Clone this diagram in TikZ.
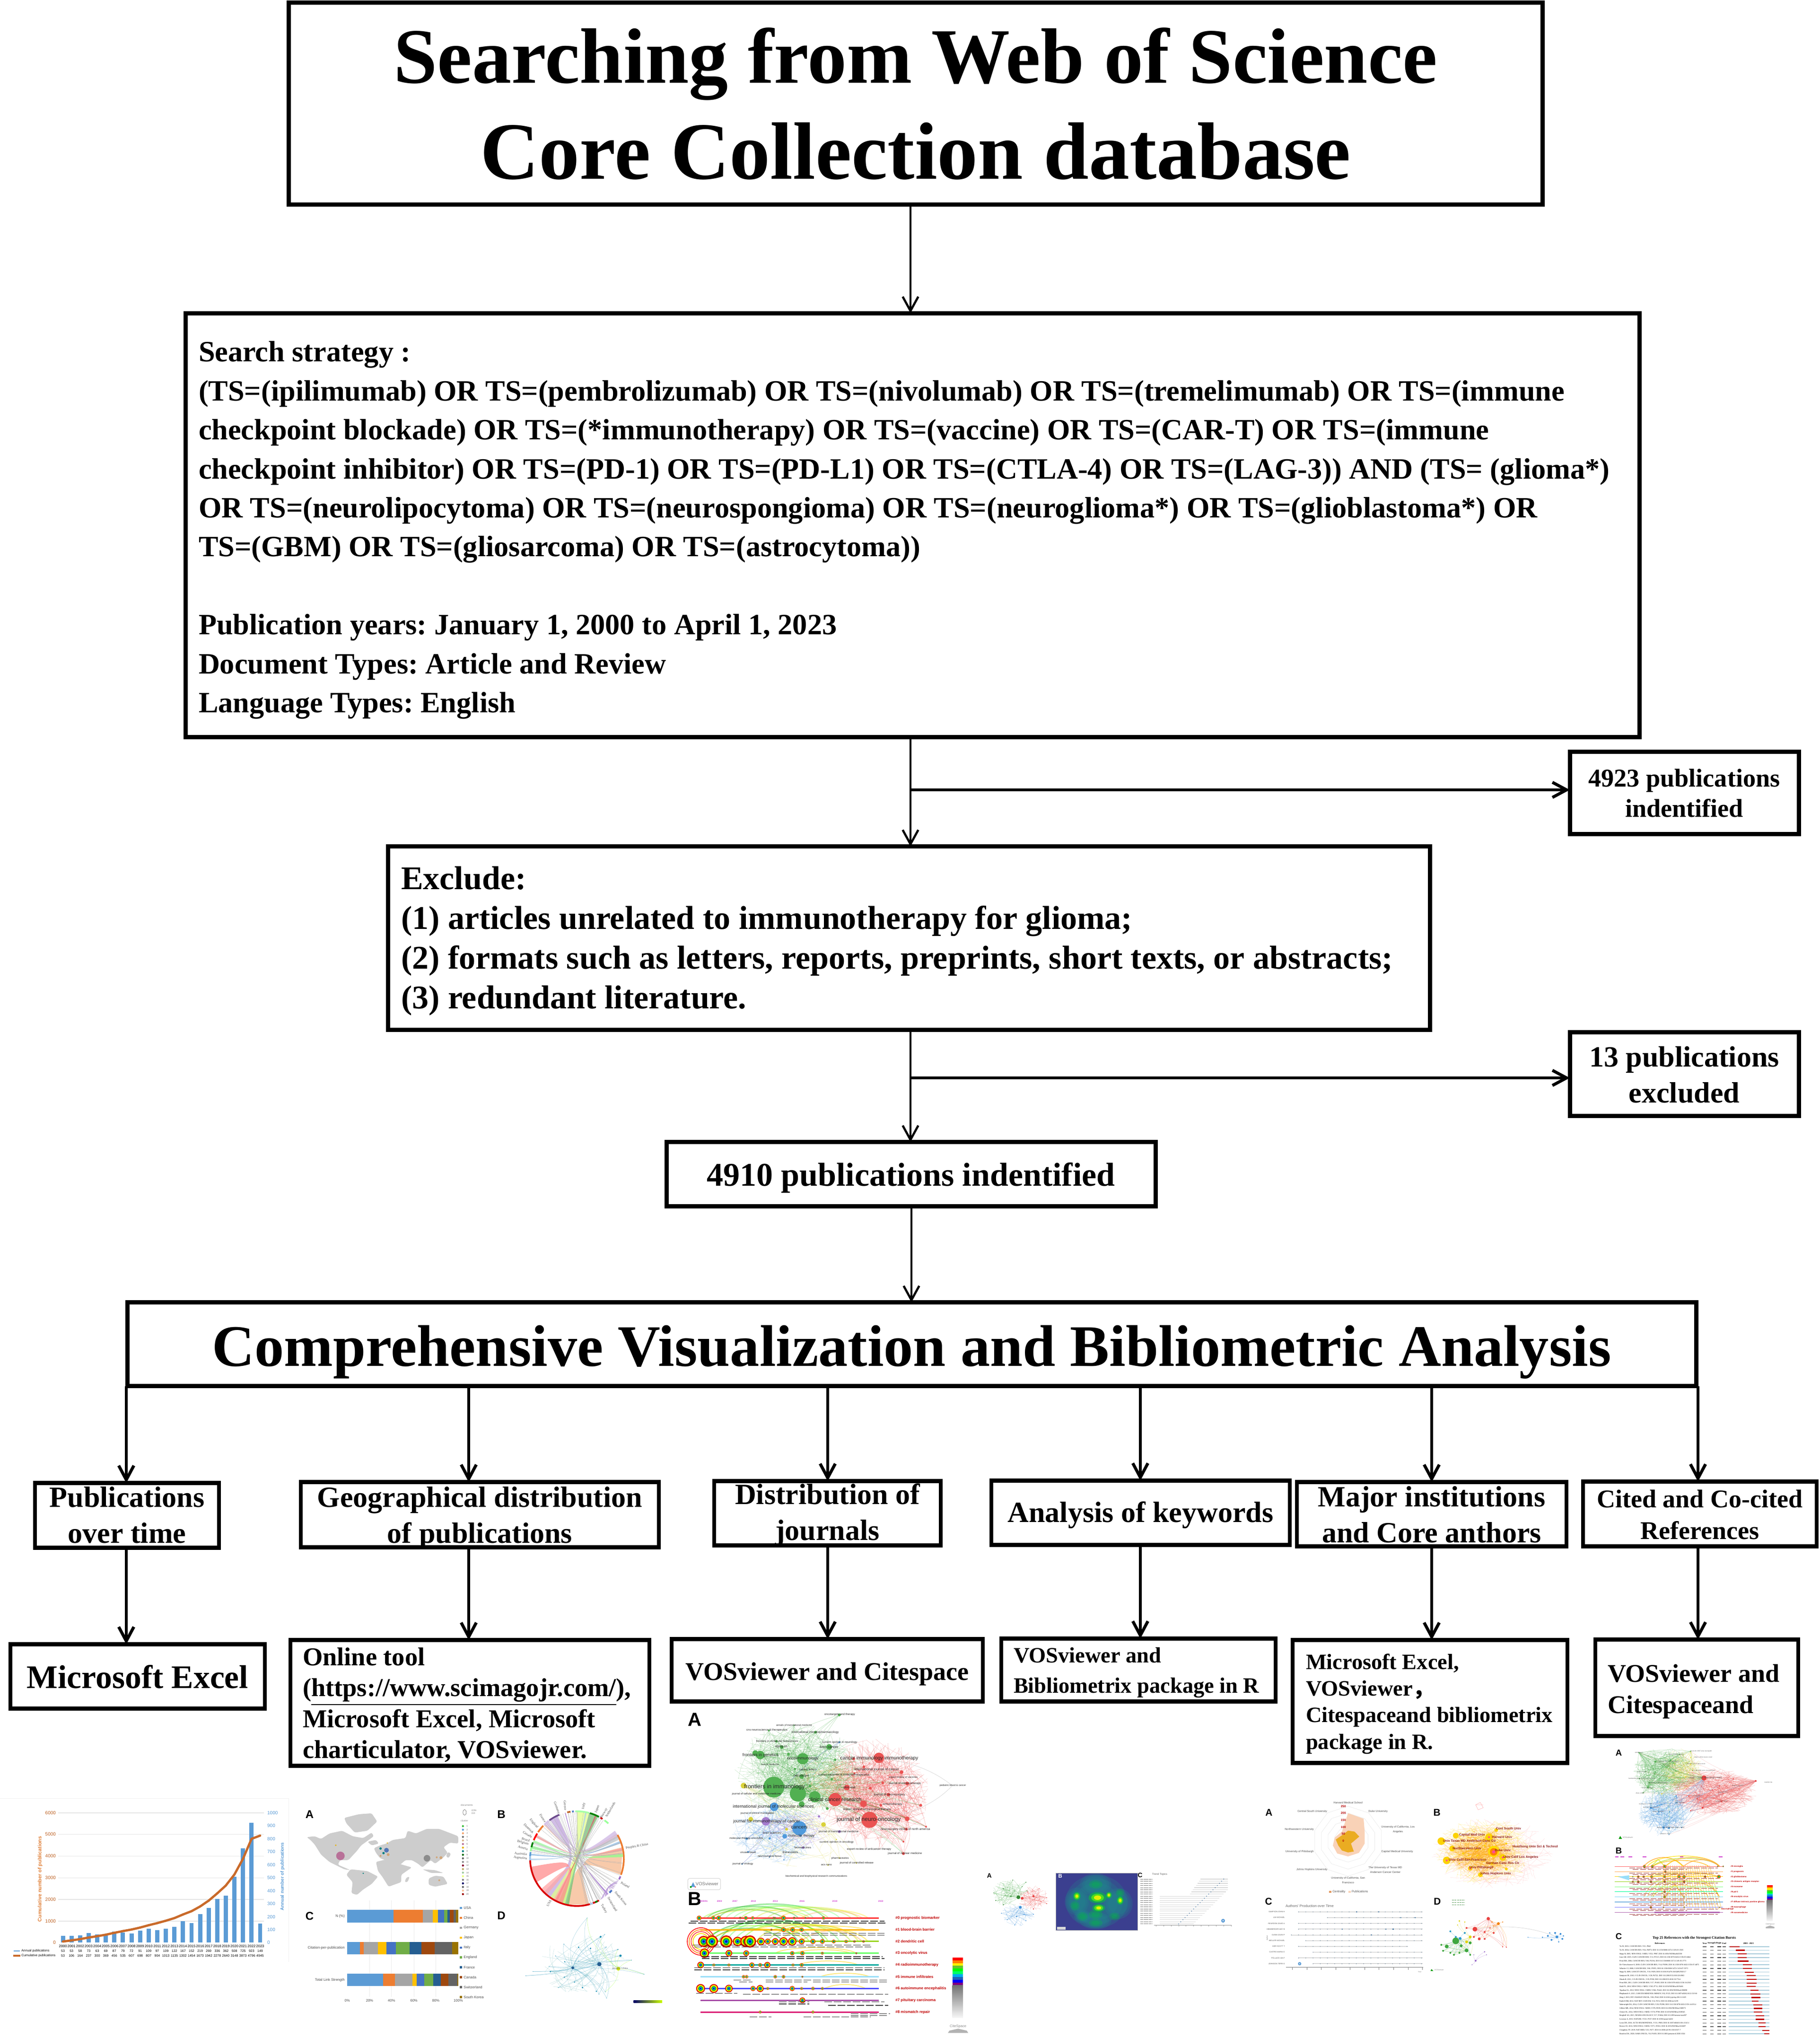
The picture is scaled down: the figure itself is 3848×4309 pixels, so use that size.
\documentclass[tikz,border=0pt]{standalone}
\usepackage{fontspec}
\setmainfont{Liberation Serif}
\newfontfamily\labf{Liberation Sans}
\newfontfamily\cjk{Noto Sans CJK SC}
\usetikzlibrary{arrows.meta,calc}
\definecolor{xblue}{HTML}{5B9BD5}\definecolor{xorange}{HTML}{ED7D31}\definecolor{xgray}{HTML}{A5A5A5}
\definecolor{xgold}{HTML}{FFC000}\definecolor{xroyal}{HTML}{4472C4}\definecolor{xgreen}{HTML}{70AD47}
\definecolor{xnavy}{HTML}{255E91}\definecolor{xbrown}{HTML}{9E480E}\definecolor{xdark}{HTML}{636363}\definecolor{xolive}{HTML}{997300}
\definecolor{vred}{HTML}{E8403F}\definecolor{vgreen}{HTML}{3FA73F}\definecolor{vblue}{HTML}{3C8FD8}\definecolor{vyel}{HTML}{D9D23A}\definecolor{vpur}{HTML}{9A6CC8}
\definecolor{mapg}{HTML}{CDCDCD}\definecolor{darkred}{HTML}{8E1A1A}\definecolor{mag}{HTML}{D040D0}\definecolor{heatbg}{HTML}{3B3F8F}\definecolor{heatt}{HTML}{1F8A8C}
\newcounter{zc}
\newcommand{\ctext}[5][0pt]{{\setbox0=\hbox{\parbox[c]{\dimexpr #2pt/4\relax}{\frenchspacing\fontsize{#3}{#4}\selectfont\centering #5\par}}\ht0=0pt \dp0=0pt \lower\dimexpr2.5pt+#1\relax\box0}}
\newcommand{\ltext}[5][0pt]{{\setbox0=\hbox{\parbox[c]{\dimexpr #2pt/4\relax}{\frenchspacing\fontsize{#3}{#4}\selectfont\raggedright #5\par}}\ht0=0pt \dp0=0pt \lower\dimexpr2.5pt+#1\relax\box0}}
\newcommand{\zt}[5][]{\stepcounter{zc}\node[inner sep=0,name=t\arabic{zc},font={\labf\fontsize{#4}{#4}\selectfont},#1] at (#2,#3) {#5};}
\newcommand{\zdots}[2]{\edef\zlist{#2}\foreach \x/\y/\rr in \zlist {\fill[#1] (\x,\y) circle[x radius=\rr/\sx,y radius=\rr/\sy];}}
\newcommand{\net}[3]{\edef\zhub{#2}\edef\zlist{#3}\foreach \a/\b/\c in \zhub {\foreach \x/\y/\rr in \zlist {\draw[#1,line width=.18pt,opacity=.3] (\a,\b) to[bend left=14] (\x,\y);}}}
\newcommand{\haze}[6]{\foreach \n in {1,...,#6}{\pgfmathsetmacro\hA{360*rnd}\pgfmathsetmacro\hR{sqrt(rnd)}\pgfmathsetmacro\hB{360*rnd}\pgfmathsetmacro\hS{sqrt(rnd)}\draw[#1,line width=.16pt,opacity=.26] ({#2+#4*\hR*cos(\hA)},{#3+#5*\hR*sin(\hA)}) to[bend left=12] ({#2+#4*\hS*cos(\hB)},{#3+#5*\hS*sin(\hB)});}}
\newcommand{\rings}[2]{\foreach \x/\rr in {#2}{\fill[red!85!black] (\x,#1) circle[x radius=\rr/\sx,y radius=\rr/\sy];\fill[yellow!90!orange] (\x,#1) circle[x radius=.78*\rr/\sx,y radius=.78*\rr/\sy];\fill[green!75!black] (\x,#1) circle[x radius=.55*\rr/\sx,y radius=.55*\rr/\sy];\fill[cyan!80!blue] (\x,#1) circle[x radius=.38*\rr/\sx,y radius=.38*\rr/\sy];\fill[blue!80!black] (\x,#1) circle[x radius=.2*\rr/\sx,y radius=.2*\rr/\sy];}}
\newcommand{\Pt}[1]{({1366+111*cos(#1)},{592+258*sin(#1)})}
\newcommand{\rim}[3]{\draw[#1,line width=.9pt] \Pt{#2} arc[start angle=#2,end angle=#3,x radius=111,y radius=258];}
\newcommand{\ribbon}[6][.75]{\fill[#2,opacity=#1] \Pt{#3} -- \Pt{#4} .. controls (1366,592) .. \Pt{#5} -- \Pt{#6} .. controls (1366,592) .. cycle;}
\tikzset{
 x=.25pt,y=-.25pt,
 bx/.style={draw=black,line width=2.25pt,rectangle,inner sep=0,outer sep=0,font=\bfseries},
 bxs/.style={bx,line width=2.05pt},
 wh/.style 2 args={minimum width=#1*.25pt+1pt,minimum height=#2*.25pt+.75pt},
 arrT/.style={-{Straight Barb[length=7.5pt,width=8.25pt]},line width=1.15pt},
 arrS/.style={-{Straight Barb[length=7.5pt,width=8pt]},line width=1.6pt},
}
\begin{document}
\begin{tikzpicture}
\pgfmathsetseed{12}
\useasboundingbox (0,0) rectangle (3848,4309);
% ---------- boxes
\node[bx,wh={2647}{424}] (title) at (1936,219) {\ctext[2.8pt]{2640}{41.5}{50.8}{Searching from Web of Science\\\fontsize{43}{50.8}\selectfont Core Collection database}};
\node[bx,wh={3070}{893}] (search) at (1929,1110) {\ltext[8pt]{3018}{15.57}{20.6}{Search strategy :\\(TS=(ipilimumab) OR TS=(pembrolizumab) OR TS=(nivolumab) OR TS=(tremelimumab) OR TS=(immune\\checkpoint blockade) OR TS=(*immunotherapy) OR TS=(vaccine) OR TS=(CAR-T) OR TS=(immune\\checkpoint inhibitor) OR TS=(PD-1) OR TS=(PD-L1) OR TS=(CTLA-4) OR TS=(LAG-3)) AND (TS= (glioma*)\\OR TS=(neurolipocytoma) OR TS=(neurospongioma) OR TS=(neuroglioma*) OR TS=(glioblastoma*) OR\\TS=(GBM) OR TS=(gliosarcoma) OR TS=(astrocytoma))\\[20.6pt]Publication years: January 1, 2000 to April 1, 2023\\Document Types: Article and Review\\Language Types: English}};
\node[bx,wh={480}{171}] (pubid) at (3561,1676.5) {\ctext[2.8pt]{470}{13.55}{16}{4923 publications\\indentified}};
\node[bx,wh={2199}{385}] (exclude) at (1921.5,1983.5) {\ltext[5.5pt]{2147}{17.5}{21}{Exclude:\\(1) articles unrelated to immunotherapy for glioma;\\(2) formats such as letters, reports, preprints, short texts, or abstracts;\\(3) redundant literature.}};
\node[bx,wh={480}{174}] (pubex) at (3561,2271) {\ctext[3.3pt]{470}{15.5}{19}{13 publications\\excluded}};
\node[bx,wh={1030}{133}] (n4910) at (1926,2482.5) {\ctext[6.35pt]{1020}{17.5}{21}{4910 publications indentified}};
\node[bx,wh={3313}{174}] (comp) at (1927.5,2842) {\ctext[10.9pt]{3300}{31.1}{36}{Comprehensive Visualization and Bibliometric Analysis}};
\node[bxs,wh={385}{134}] (pub) at (268.5,3204) {\ctext[2.1pt]{380}{15.5}{19}{Publications\\over time}};
\node[bxs,wh={753}{135}] (geo) at (1014.5,3202.5) {\ctext[6.15pt]{745}{15.5}{19}{Geographical distribution\\of publications}};
\node[bxs,wh={475}{133}] (dist) at (1749.5,3199.5) {\ctext[4.4pt]{470}{15.5}{19}{Distribution of\\journals}};
\node[bxs,wh={627}{133}] (kw) at (2411.5,3198.5) {\ctext[5pt]{620}{15.5}{19}{Analysis of keywords}};
\node[bxs,wh={566}{133}] (major) at (3027,3201.5) {\ctext[2.8pt]{560}{15.5}{19}{Major institutions\\and Core anthors}};
\node[bxs,wh={490}{134}] (cited) at (3594,3201) {\ctext[3.1pt]{484}{13.5}{16.7}{Cited and Co-cited\\References}};
\node[bxs,wh={534}{133}] (excel) at (291,3544.5) {\ctext[2.8pt]{528}{17.4}{21}{Microsoft Excel}};
\node[bxs,wh={755}{263}] (online) at (993.5,3600.5) {\ltext[4.6pt]{707}{13.6}{16.4}{Online tool\\(\underline{https://www.scimagojr.com/}),\\Microsoft Excel, Microsoft\\charticulator, VOSviewer.}};
\node[bxs,wh={654}{129}] (vosa) at (1749,3531.5) {\ctext[6.35pt]{648}{13.5}{16}{VOSviewer and Citespace}};
\node[bxs,wh={576}{130}] (vosb) at (2407,3531) {\ltext[5.1pt]{528}{11.6}{16}{VOSviewer and\\Bibliometrix package in R}};
\node[bxs,wh={577}{257}] (ms) at (3023.5,3597.5) {\ltext[5pt]{525}{11.6}{14.1}{Microsoft Excel,\\VOSviewer{\cjk，}\\Citespaceand bibliometrix\\package in R.}};
\node[bxs,wh={425}{201}] (vosc) at (3587.5,3568.5) {\ltext[6.35pt]{377}{13.5}{16.4}{VOSviewer and\\Citespaceand}};
% ---------- connector guides
\coordinate (cM) at (1925,0);\coordinate (cL) at (1927,0);
\coordinate (j1) at (1925,1670);\coordinate (j2) at (1925,2279);
\coordinate (c1) at (267,0);\coordinate (c2) at (991,0);\coordinate (c3) at (1750,0);\coordinate (c4) at (2411,0);\coordinate (c5) at (3027,0);\coordinate (c6) at (3590,0);
\draw[arrT] (title.south -| cM) -- (search.north -| cM);
\draw[arrT] (search.south -| cM) -- (exclude.north -| cM);
\draw[arrS] (j1) -- (pubid.west |- j1);
\draw[arrT] (exclude.south -| cM) -- (n4910.north -| cM);
\draw[arrS] (j2) -- (pubex.west |- j2);
\draw[arrT] (n4910.south -| cL) -- (comp.north -| cL);
\draw[arrS] (comp.south -| c1) -- (pub.north -| c1);
\draw[arrS] (comp.south -| c2) -- (geo.north -| c2);
\draw[arrS] (comp.south -| c3) -- (dist.north -| c3);
\draw[arrS] (comp.south -| c4) -- (kw.north -| c4);
\draw[arrS] (comp.south -| c5) -- (major.north -| c5);
\draw[arrS] (comp.south -| c6) -- (cited.north -| c6);
\draw[arrS] (pub.south -| c1) -- (excel.north -| c1);
\draw[arrS] (geo.south -| c2) -- (online.north -| c2);
\draw[arrS] (dist.south -| c3) -- (vosa.north -| c3);
\draw[arrS] (kw.south -| c4) -- (vosb.north -| c4);
\draw[arrS] (major.south -| c5) -- (ms.north -| c5);
\draw[arrS] (cited.south -| c6) -- (vosc.north -| c6);
% ================= PANELS, left group (zoom 1 coordinates)
\def\sx{.893}\def\sy{.388}
\begin{scope}[shift={(0,3700)},xscale=.893,yscale=.388]
\draw[black!6,line width=.3pt] (0,265) -- (684,265) -- (684,1155);
\foreach \g/\l in {342/6000,460/5000,578/4000,697/3000,815/2000,933/1000}{\draw[black!10,line width=.4pt] (138,\g) -- (625,\g);\zt[text=xorange!80!black,anchor=east]{133}{\g}{2.5}{\l}}
\zt[text=xorange!80!black,anchor=east]{133}{1050}{2.5}{0}
\foreach \g/\l in {342/1000,413/900,484/800,555/700,626/600,697/500,767/400,838/300,909/200,980/100,1050/0}{\zt[text=xblue,anchor=west]{632}{\g}{2.5}{\l}}
\zt[text=xorange!70!brown,rotate=90,font={\labf\bfseries\fontsize{2.7}{3}\selectfont}]{95}{703}{2.7}{Cumulative number of publications}
\zt[text=xblue,rotate=90,font={\labf\bfseries\fontsize{2.45}{3}\selectfont}]{669}{690}{2.45}{Annual number of publications}
\foreach \v [count=\i from 0] in {53,53,58,73,63,69,87,79,72,91,109,97,109,122,167,152,219,269,336,362,508,725,923,149}{
 \fill[xblue] ({149+20.3*\i-5},1050) rectangle ({149+20.3*\i+5},{1050-.708*\v});
 \zt{{149+20.3*\i}}{1095}{1.75}{\v}
 \pgfmathtruncatemacro\yr{2000+\i}\zt{{149+20.3*\i}}{1068}{1.9}{\yr}}
\foreach \c [count=\i from 0, remember=\c as \p (initially 53)] in {53,106,164,237,300,369,456,535,607,698,807,904,1013,1135,1302,1454,1673,1942,2278,2640,3148,3873,4796,4945}{
 \ifnum\i>0 \draw[xorange!85!black,line width=1.2pt,line cap=round] ({149+20.3*(\i-1)},{1050-.118*\p}) -- ({149+20.3*\i},{1050-.118*\c});\fi
 \zt{{149+20.3*\i}}{1121}{1.75}{\c}}
\fill[xblue] (33,1092) rectangle (47,1099);\draw[xorange!85!black,line width=.8pt] (31,1121) -- (48,1121);
\zt[anchor=west]{50}{1095}{1.7}{Annual publications}\zt[anchor=west]{50}{1121}{1.7}{Cumulative publications}
% map
\zt[font={\labf\bfseries\fontsize{6}{6}\selectfont}]{733}{350}{6}{A}
\begin{scope}[rounded corners=.8pt]
\fill[mapg] (726,475) -- (745,470) -- (760,485) -- (780,455) -- (810,440) -- (835,470) -- (860,480) -- (880,450) -- (885,470) -- (855,520) -- (845,550) -- (825,600) -- (805,600) -- (800,625) -- (830,655) -- (815,650) -- (780,610) -- (760,570) -- (745,515) -- (735,490) -- cycle;
\fill[mapg] (815,370) -- (850,350) -- (880,345) -- (893,390) -- (870,440) -- (840,450) -- (820,400) -- cycle;
\fill[mapg] (830,650) -- (870,660) -- (895,690) -- (880,730) -- (860,760) -- (845,790) -- (832,780) -- (835,720) -- (820,680) -- cycle;
\fill[mapg] (890,560) -- (885,535) -- (900,520) -- (915,510) -- (930,490) -- (960,480) -- (965,440) -- (985,455) -- (1010,430) -- (1040,430) -- (1085,470) -- (1085,510) -- (1065,505) -- (1050,530) -- (1060,560) -- (1050,585) -- (1030,620) -- (1020,600) -- (1000,640) -- (990,620) -- (975,600) -- (960,600) -- (940,640) -- (925,610) -- (900,590) -- cycle;
\fill[mapg] (890,610) -- (925,590) -- (945,620) -- (975,640) -- (950,680) -- (950,720) -- (920,745) -- (905,690) -- (895,660) -- cycle;
\fill[mapg] (1015,700) -- (1030,685) -- (1050,690) -- (1060,730) -- (1030,745) -- (1015,735) -- cycle;
\fill[mapg] (1000,650) -- (1030,655) -- (1050,670) -- (1020,670) -- cycle;
\fill[mapg] (962,695) -- (970,690) -- (965,720) -- (958,720) -- cycle;
\fill[mapg] (1060,555) -- (1068,565) -- (1062,590) -- (1056,580) -- cycle;
\fill[mapg] (870,500) -- (890,490) -- (897,510) -- (880,520) -- cycle;
\end{scope}
\zdots{magenta!40!gray}{806/577/9}
\zdots{black!45}{1011/590/7}
\zdots{xroyal!80!gray}{915/546/5}
\zdots{teal}{901/537/2.5,908/562/2.5,860/672/1.5}
\zdots{brown!70}{919/570/3,901/577/2,1034/585/2,1044/587/3.2,1040/710/2}
\zdots{xgold!80!gray}{795/519/1.8,917/507/1.5}
\zt[text=black!50,anchor=west]{1090}{301}{1.3}{documents}
\zt[text=black!50,anchor=west]{1090}{386}{1.3}{cluster}
\foreach \n/\c [count=\i from 0] in {1/green!50!gray,2/xblue,3/xorange!70,4/black!55,5/brown!60,6/magenta!40!gray,7/xgold!80!gray,8/teal,9/green!40!black,10/black!60,11/black!45,12/purple!70!black,13/xolive!60,14/green!30!gray!60,15/green!20!yellow!50,16/black!50,17/blue!40!black,18/black!60,19/xorange!50,20/red!60!black}{
 \fill[\c] (1096,{415+19.5*\i}) circle[x radius=2.2/\sx,y radius=2.2/\sy];\zt[text=black!60,anchor=west]{1103}{{415+19.5*\i}}{1.2}{\n}}
\draw[black!50,line width=.2pt] (1100,340) circle[x radius=3.5/\sx,y radius=6/\sy];\zt[text=black!50,anchor=west]{1115}{330}{1.2}{2296}\zt[text=black!50,anchor=west]{1115}{345}{1.2}{150}
% chord
\zt[font={\labf\bfseries\fontsize{6}{6}\selectfont}]{1187}{350}{6}{B}
\ribbon{xorange!55}{-14}{20}{103}{75}
\ribbon{vpur!60}{235}{245}{120}{135}
\ribbon{green!55!black!55}{285}{297}{100}{115}
\ribbon{green!25!yellow!45}{270}{285}{105}{125}
\ribbon{red!45}{170}{150}{108}{118}
\ribbon{xblue!70}{184}{186}{-22}{-19}
\ribbon{vred}{293}{295}{115}{118}
\ribbon{vpur}{255}{256}{48}{50}
\ribbon{green!40}{200}{203}{-25}{-28}
\ribbon{xorange!40}{225}{228}{-28}{-32}
\ribbon{vpur!50}{240}{245}{-30}{-36}
\ribbon{xblue!50}{280}{282}{180}{178}
\ribbon{red!40}{207}{210}{-10}{-13}
\ribbon{green!45}{192}{196}{-2}{-6}
\ribbon{vpur!40}{226}{232}{-25}{-30}
\ribbon{red!35}{140}{130}{120}{113}
\foreach \n in {1,...,45}{\pgfmathsetmacro\hA{185+125*rnd}\pgfmathsetmacro\hB{-30+110*rnd}\draw[black!30,line width=.1pt] \Pt{\hA} .. controls (1366,592) .. \Pt{\hB};}
\foreach \n in {1,...,14}{\pgfmathsetmacro\hA{25+35*rnd}\pgfmathsetmacro\hB{25+35*rnd}\draw[vpur!70,line width=.12pt] \Pt{\hA} .. controls (1440,740) .. \Pt{\hB};}
\rim{red!85!black}{62}{178}\rim{xorange}{20}{-30}\rim{xblue!60}{178}{183}\rim{xblue}{183}{188}\rim{green!40}{189}{194}\rim{green!50!black}{194}{200}\rim{red}{203}{212}\rim{xorange}{214}{224}\rim{vpur!40}{226}{233}\rim{vpur!70!black}{234}{248}\rim{xorange!80!black}{258}{262}\rim{xroyal}{264}{266}\rim{green!35}{268}{285}\rim{green!50!black}{286}{298}\rim{red!80!black}{300}{303}\rim{green!40}{306}{312}
\rim{green!50!black}{64}{67}\rim{xblue!50}{70}{74}\rim{vpur}{22}{26}\rim{xroyal}{42}{46}
\foreach \t/\a/\rt/\ang in {Argentina/1232/589/-5,Australia/1233/565/-5,Austria/1238/533/-15,Belgium/1238/505/-15,Brazil/1245/488/-15,Canada/1249/460/-30,Denmark/1252/428/-45,England/1264/400/-50,France/1285/372/-55,Germany/1318/315/-70,Greece/1338/302/-85,Italy/1382/305/80,Japan/1414/322/70,Netherlands/1445/325/60,Norway/1430/345/60,Peoples R China/1508/525/10,USA/1300/835/60,Turkey/1430/865/-60,Switzerland/1450/840/-60,South Korea/1470/808/-50,Poland/1480/735/-30}{\zt[text=black!70,rotate=\ang,font={\rmfamily\fontsize{1.8}{2}\selectfont}]{\a}{\rt}{1.8}{\t}}
% stacked bars
\zt[font={\labf\bfseries\fontsize{6}{6}\selectfont}]{733}{905}{6}{C}
\foreach \g in {875,927,980,1032}{\draw[black!8,line width=.2pt] (\g,820) -- (\g,1345);}
\zt[text=black!70,anchor=east]{817}{906}{1.9}{N (\%)}
\zt[text=black!70,anchor=east]{817}{1079}{1.9}{Citation-per-publication}
\zt[text=black!70,anchor=east]{817}{1253}{1.9}{Total Link Strength}
\foreach \yt/\lst in {872/{822,932,1001,1025,1037,1051,1059,1065,1074,1079,1085},1045/{822,852,861,895,915,937,970,998,1029,1071,1085},1219/{822,907,935,976,986,1005,1026,1044,1062,1083,1085}}{
 \foreach \c [count=\i from 0, remember=\c as \p (initially 822)] in \lst {
  \ifnum\i>0
   \ifcase\i\or\def\cc{xblue}\or\def\cc{xorange}\or\def\cc{xgray}\or\def\cc{xgold}\or\def\cc{xroyal}\or\def\cc{xgreen}\or\def\cc{xnavy}\or\def\cc{xbrown}\or\def\cc{xdark}\or\def\cc{xolive}\fi
   \fill[\cc] (\p,\yt) rectangle (\c,\yt+68);
  \fi}}
\foreach \l/\c/\g in {USA/xblue/861,China/xorange/915,Germany/xgray/969,Japan/xgold/1023,Italy/xroyal/1077,England/xgreen/1130,France/xnavy/1184,Canada/xbrown/1238,Switzerland/xdark/1292,South Korea/xolive/1346}{
 \fill[\c] (1089,\g-6) rectangle (1094,\g+6);\zt[text=black!70,anchor=west]{1097}{\g}{1.9}{\l}}
\foreach \g/\l in {822/0,875/20,927/40,980/60,1032/80,1085/100}{\zt[text=black!70]{\g}{1365}{1.9}{\l\%}}
% network D
\zt[font={\labf\bfseries\fontsize{6}{6}\selectfont}]{1187}{902}{6}{D}
\def\nodesD{1390/915/.6,1422/1018/2,1432/1005/.7,1370/1075/1.6,1398/1081/1.6,1435/1074/.8,1463/1087/1.2,1335/1058/.8,1337/1154/1.4,1315/1122/.8,1469/1121/2.5,1495/1145/.8,1303/1208/1.5,1336/1238/1.4,1360/1265/1.3,1379/1295/1.6,1412/1315/1.5,1433/1318/.7,1418/1330/.8,1525/1222/.7,1262/1207/.7,1245/1230/.6,1322/1295/.6,1436/1352/.6,1370/1150/.8,1300/1180/.7}
\net{xnavy!70!cyan}{1419/1167/0,1356/1187/0}{\nodesD}
\net{green!50!yellow}{1464/1192/0}{1422/1018/0,1463/1087/0,1495/1145/0,1525/1222/0,1433/1318/0,1390/915/0,1469/1121/0}
\haze{teal!70}{1380}{1170}{110}{160}{40}
\zdots{xnavy!70!cyan}{\nodesD}
\zdots{xnavy}{1419/1167/4.5,1356/1187/3}
\zdots{yellow!80!green}{1464/1192/4}
\zt[text=black!60]{1468}{1192}{1.2}{peoples r china}
\shade[left color=blue!40!black,right color=yellow!80!green] (1500,1365) rectangle (1568,1377);
\end{scope}
% ================= journals + keywords (zoom 2 coordinates)
\def\sx{.797}\def\sy{.452}
\begin{scope}[shift={(1400,3600)},xscale=.797,yscale=.452]
\zt[font={\labf\bfseries\fontsize{10}{10}\selectfont}]{87}{78}{10}{A}
\def\nR{575/258/11,459/453/14,550/548/17,490/397/6,635/325/4,600/430/4,650/378/4,650/543/5,648/592/3,700/580/2,686/480/3,534/473/7,640/706/3,580/480/3,508/262/3,535/300/3,585/375/3,640/650/2,510/330/2,552/400/3}
\def\nG{296/395/22,360/425/17,373/262/12,260/245/9,247/236/6,405/440/12,370/345/5,370/475/6,443/207/6,317/208/4,335/240/3,407/138/3,470/57/3,283/130/2,303/180/2.5,459/267/2.5,352/310/2.5,450/358/2.5,350/105/1.5,438/495/3,392/390/3}
\def\nB{364/587/15,297/487/9,325/625/5,285/635/2.5,224/636/2.5,228/698/2,285/722/1.5,323/735/1.5,212/755/1.5,367/622/2.5,470/185/2}
\def\nP{275/555/9,470/603/3,416/532/2.5,374/678/2.5}
\def\nY{216/388/6,235/545/5,428/570/5,330/592/3,462/640/1.5,470/727/1.5,515/750/1.5,440/760/1.5}
\haze{vgreen}{360}{320}{170}{220}{260}
\haze{vred}{560}{430}{150}{260}{300}
\haze{vblue}{300}{610}{120}{140}{110}
\haze{vpur}{360}{590}{90}{90}{50}
\haze{vyel}{350}{620}{130}{150}{40}
\haze{orange!60!brown}{440}{380}{100}{120}{70}
\net{vgreen}{296/395/0,360/425/0,373/262/0,405/440/0,260/245/0}{\nG}
\net{vred}{459/453/0,550/548/0,575/258/0,534/473/0,650/543/0}{\nR}
\net{vblue}{364/587/0,297/487/0}{\nB}
\net{vpur}{275/555/0}{\nP,\nB}
\net{vyel}{216/388/0,428/570/0}{\nY}
\net{vgreen}{296/395/0,360/425/0}{\nR}
\draw[black!15,line width=.2pt] (575,258) to[bend left=20] (770,388) to[bend left=25] (550,548);
\zdots{vred!90}{\nR}\zdots{vgreen!90}{\nG}\zdots{vblue!90}{\nB}\zdots{vpur!90}{\nP}\zdots{vyel}{\nY}
\foreach \tx/\ty/\ts/\ttx in {
 471/56/1.5/oncotargets and therapy,350/106/1.35/annals of translational medicine,278/128/1.5/cns neuroscience \& therapeutics,406/138/1.6/international immunopharmacology,305/180/1.5/frontiers in molecular biosciences,471/185/1.5/current opinion in neurology,316/205/1.7/aging-us,443/207/1.9/bmc cancer,261/245/2.2/frontiers in genetics,373/262/2.2/oncoimmunology,576/260/2.6/cancer immunology immunotherapy,286/289/1.3/cancer medicine,387/312/1.5/cancer letters,569/313/1.8/international journal of cancer,369/343/1.7/oncotarget,482/339/1.55/human vaccines \& immunotherapeutics,640/350/1.35/expert review of vaccines,644/378/1.5/journal of immunotherapy,771/388/1.3/pediatric blood \& cancer,298/394/3.1/frontiers in immunology,497/397/1.7/plos one,250/427/1.4/journal of cellular and molecular medicine,603/430/1.6/journal of neurosurgery,458/453/2.7/clinical cancer research,611/475/1.5/immunotherapy,295/487/2.3/international journal of molecular sciences,544/500/1.6/expert opinion on biological therapy,253/517/1.35/journal of clinical investigation,277/555/2.2/journal for immunotherapy of cancer,548/548/3/journal of neuro-oncology,364/584/2.5/cancers,645/592/1.6/neurosurgery clinics of north america,291/608/1.5/brain sciences,468/603/1.5/journal of translational medicine,369/622/1.75/molecular therapy,223/636/1.4/molecular therapy-oncolytics,463/652/1.5/current opinion in oncology,373/678/1.5/biomedicines,549/686/1.5/expert review of anticancer therapy,228/699/1.4/viruses-basel,340/699/1.5/theranostics,644/706/1.5/journal of nuclear medicine,285/720/1.45/neurosurgical focus,472/727/1.4/pharmaceutics,516/750/1.45/journal of controlled release,214/755/1.4/journal of virology,436/759/1.4/acs nano,409/811/1.35/biochemical and biophysical research communications}{
 \zt[text=black!85]{\tx}{\ty}{\ts}{\ttx}}
\draw[black!15,line width=.3pt,rounded corners=1pt] (68,822) rectangle (155,875);
\fill[xblue] (82,840) -- (76,862) -- (88,862) -- cycle;\fill[green!60!black] (76,862) circle[x radius=2/\sx,y radius=2/\sy];\fill[vred] (88,862) circle[x radius=1.5/\sx,y radius=1.5/\sy];
\zt[text=black!55]{119}{848}{2.4}{VOSviewer}
% timeline B
\zt[font={\labf\bfseries\fontsize{10}{10}\selectfont}]{87}{918}{10}{B}
\foreach \g/\l in {110/{2000/01},152/2004,193/2007,242/2010,300/2013,371/2016,458/2019,580/2022}{\zt[text=mag,font={\labf\bfseries\fontsize{1.2}{1.2}\selectfont}]{\g}{928}{1.2}{\l}}
\foreach \a/\b/\h/\c in {150/430/85/green!70!black,190/470/75/green!60,110/390/60/green!50!yellow,130/320/50/green!60!black,250/520/65/yellow!80!green,310/545/50/yellow!80!orange,370/530/40/orange!70,125/380/48/yellow!80!orange,170/400/80/green!60,210/440/70/green!50!yellow,120/360/70/green!70!black,280/500/60/yellow!70!green}{
 \draw[\c,line width=.6pt,opacity=.35] (\a,1005) .. controls (\a+40,1005-\h) and (\b-40,1005-\h) .. (\b,1005);
 \draw[\c,line width=.6pt,opacity=.45] (\a,1115) .. controls (\a+40,1115-1.6*\h) and (\b-40,1115-1.6*\h) .. (\b,1115);}
\foreach \a/\b/\g/\h in {250/480/1062/32,320/540/1062/24,300/515/1172/35,350/500/1172/22,360/520/1227/25,420/550/1282/22,430/540/1337/25}{\draw[yellow!70!orange,line width=.5pt,opacity=.5] (\a,\g) .. controls (\a+30,\g-\h) and (\b-30,\g-\h) .. (\b,\g);}
\foreach \g/\c/\la in {1007/red!80/{\#0 prognostic biomarker},1062/orange!60!yellow/{\#1 blood-brain barrier},1117/yellow!60!green/{\#2 dendritic cell},1172/green!60/{\#3 oncolytic virus},1227/cyan!50!green/{\#4 radioimmunotherapy},1282/cyan!40/{\#5 immune infiltrates},1337/blue!70/{\#6 autoimmune encephalitis},1392/violet!70/{\#7 pituitary carcinoma},1447/magenta!60!purple/{\#8 mismatch repair}}{
 \draw[\c,line width=.75pt] (102,\g) -- (575,\g);
 \zt[text=red!75!black,anchor=west,font={\labf\bfseries\fontsize{2}{2}\selectfont}]{618}{\g}{2}{\la}}
\foreach \k/\c in {1/red!85,.86/orange!80,.72/red!70,.58/yellow!80!orange}{\draw[\c,line width=.45pt] (103,1117) circle[x radius=\k*29/\sx,y radius=\k*29/\sy];}
\rings{1007}{98/5,136/4,150/5,207/2.5,222/4,240/3.5,296/2.5,322/5,350/2.5,428/3.5,300/2,380/2}
\rings{1062}{290/2,322/5,346/5,370/4.5}
\rings{1117}{110/12,132/13,170/13,200/10,222/12,233/13,262/8,280/6,300/7,322/9,345/9,370/6,400/5.5,425/5,455/4,488/3.5,510/2.5,534/2.5}
\rings{1172}{112/10,177/7,223/6,345/4.5,372/4.5,425/3,515/2}
\rings{1227}{102/7,137/3,177/3,238/5.5,260/4,279/6.5,347/3,370/4}
\rings{1282}{216/3.5,224/3.5,300/3.5,322/3.5,372/2}
\rings{1337}{102/9.5,137/9.5,177/8,241/5.5,260/7.5,280/3,345/5.5,370/3,400/3.5,425/3}
\rings{1392}{372/6}
\rings{1447}{260/3,400/3}
\foreach \g/\a/\b in {1022/75/590,1031/70/595,1078/270/590,1087/270/590,1133/80/555,1142/85/555,1188/105/585,1197/105/590,1240/85/590,1250/85/590,1297/190/240,1306/205/240,1297/275/400,1306/275/385,1297/400/600,1306/400/600,1360/90/200,1363/215/600,1400/310/390,1409/310/390,1416/440/600,1400/430/590,1455/500/605,1464/500/600,1470/232/290,1470/375/553}{\draw[black,line width=.3pt,dash pattern=on 4pt off 1pt,opacity=.75] (\a,\g) -- (\b,\g);}
\foreach \c [count=\i from 0] in {red,orange,yellow,yellow!40!green,green,green!60!cyan,cyan,cyan!40!blue,blue,violet}{\fill[\c] (770,{1192+13*\i}) rectangle (798,{1205+13*\i});}
\shade[top color=black!55,bottom color=black!3] (770,1322) rectangle (798,1475);
\zt[text=black!45]{785}{1515}{1.9}{CiteSpace}
\fill[black!30] (762,1534) -- (785,1525) -- (808,1534) -- (812,1545) -- (758,1545) -- cycle;
% keyword panels
\zt[font={\labf\bfseries\fontsize{3.4}{3.4}\selectfont}]{868}{810}{3.4}{A}
\def\kG{945/910/4,905/870/1.2,930/830/1,965/840/1,885/925/1.2,905/945/1.2,925/905/1.4,880/890/1,910/900/1,968/880/1,955/860/.9}
\def\kR{985/905/2.2,955/915/3,1005/930/1.2,1020/912/1,1000/870/1,1020/940/1,985/965/1.4,970/885/1.1}
\def\kB{950/957/3,940/1000/1.5,900/985/1,915/1015/1,965/1020/1,985/990/1,935/1040/.9,960/990/1.1}
\haze{vgreen}{920}{890}{45}{65}{50}
\haze{vred}{985}{915}{42}{60}{45}
\haze{vblue}{945}{990}{45}{55}{40}
\net{vgreen}{945/910/0,925/905/0}{\kG}
\net{vred}{955/915/0,985/905/0}{\kR}
\net{vblue}{950/957/0,940/1000/0}{\kB}
\zdots{vgreen!80!black}{\kG}\zdots{vred}{\kR}\zdots{vblue}{\kB}
\fill[heatbg] (1045,797) rectangle (1261,1065);
\foreach \x/\y/\a/\b in {1152/930/82/125,1150/850/42/52,1100/930/32/65,1210/940/38/72,1150/1020/42/40,1115/1000/22/32}{
 \foreach \k in {1,.85,.7}{\fill[heatt,opacity=.24] (\x,\y) ellipse[x radius=\k*\a,y radius=\k*\b];}}
\foreach \x/\y/\a/\b in {1150/850/18/20,1095/950/12/22,1215/890/11/20,1115/1000/14/20,1150/1030/18/18,1200/1000/14/18,1150/990/18/22}{
 \foreach \k in {1,.6}{\fill[green!50!teal,opacity=.28] (\x,\y) ellipse[x radius=\k*\a,y radius=\k*\b];}}
\foreach \x/\y/\a/\b in {1155/912/24/26,1158/960/17/18,1185/900/8/16,1100/905/10/20,1215/925/9/20}{
 \foreach \k/\c/\o in {1/green!70!teal/.45,.7/green!60!yellow/.65,.4/yellow/.85}{\fill[\c,opacity=\o] (\x,\y) ellipse[x radius=\k*\a,y radius=\k*\b];}}
\draw[black!30,line width=.2pt] (1045,797) rectangle (1261,1065);
\zt[text=white,font={\labf\bfseries\fontsize{2.8}{2.8}\selectfont}]{1056}{810}{2.8}{B}
\fill[black!15] (1048,1048) rectangle (1070,1062);
\zt[font={\labf\bfseries\fontsize{3.4}{3.4}\selectfont}]{1268}{808}{3.4}{C}
\zt[text=black!60]{1320}{804}{1.4}{Trend Topics}
\foreach \i in {0,...,21}{
 \pgfmathsetmacro\tx{1370+5.7*\i}\pgfmathsetmacro\ty{1035-10*\i}
 \pgfmathsetmacro\tl{ifthenelse(\i<14,1320,1400+4*(\i-14))}
 \draw[black!15,line width=.3pt] (\tl,\ty) -- ({min(\tx+40,1500)},\ty);
 \fill[xnavy] (\tx,\ty) circle[x radius=.8/\sx,y radius=1/\sy];
 \draw[black!50,line width=.2pt,dash pattern=on .8pt off .1pt] (1268,\ty) -- (1300,\ty);}
\draw[black!40,line width=.2pt] (1305,1040) -- (1510,1040);
\foreach \g in {1310,1330,...,1510}{\draw[black!40,line width=.2pt] (\g,1040) -- (\g,1046);}
\zdots{xblue}{1488/1020/4}\zdots{white}{1488/1020/1.4}
\end{scope}
% ================= institutions, references (zoom 3 coordinates)
\def\sx{.764}\def\sy{.42}
\begin{scope}[shift={(2650,3650)},xscale=.764,yscale=.42]
\foreach \t/\xx/\yy in {A/43/433,B/508/433,C/42/882,D/509/882}{\zt[font={\labf\bfseries\fontsize{5.2}{5.2}\selectfont}]{\xx}{\yy}{5.2}{\t}}
\foreach \k in {1,.8,.6,.4,.2}{
 \draw[black!8,line width=.2pt] (262,{578-176*\k}) \foreach \i in {1,...,9}{-- ({262+97*\k*sin(36*\i)},{578-176*\k*cos(36*\i)})} -- cycle;}
\fill[xorange!35!white] (262,437) -- (305,465) -- (308,530) -- (308,590) -- (292,637) -- (262,655) -- (232,640) -- (220,600) -- (225,560) -- (245,530) -- cycle;
\fill[xorange!55!yellow!80!brown] (262,525) -- (280,530) -- (293,555) -- (270,590) -- (278,630) -- (262,635) -- (245,625) -- (235,600) -- (228,570) -- (248,545) -- cycle;
\foreach \g/\l in {402/250,437/200,472/150,507/100,541/50,577/0}{\zt[text=red!70!black,font={\labf\bfseries\fontsize{1.6}{1.6}\selectfont}]{249}{\g}{1.6}{\l}}
\foreach \xx/\yy/\t in {262/385/Harvard Medical School,345/429/Duke University,127/520/Northwestern University,163/429/Central South University,398/631/Capital Medical University,128/631/University of Pittsburgh,162/722/Johns Hopkins University}{\zt[text=black!70]{\xx}{\yy}{1.45}{\t}}
\zt[text=black!70,align=center]{400}{519}{1.45}{University of California, Los\\[1pt]Angeles}
\zt[text=black!70,align=center]{365}{722}{1.45}{The University of Texas MD\\[1pt]Anderson Cancer Center}
\zt[text=black!70,align=center]{262}{775}{1.45}{University of California, San\\[1pt]Francisco}
\fill[xorange!60!brown!80] (210,828) rectangle (216,837);\zt[text=black!70,anchor=west]{218}{832}{1.6}{Centrality}
\fill[xorange!35] (263,828) rectangle (269,837);\zt[text=black!70,anchor=west]{271}{832}{1.6}{Publications}
% institutions
\haze{pink!80!red}{660}{640}{170}{180}{120}
\haze{yellow!70!orange}{640}{630}{140}{170}{200}
\haze{orange!75!yellow}{630}{630}{100}{120}{260}
\foreach \x/\y in {560/550,605/547,650/558,520/578,550/615,690/660,535/675,600/715,630/745,700/715,672/522,660/690,620/650,640/600,700/590,580/640,660/720}{\foreach \b/\c in {665/632,600/672,650/558}{\draw[orange!70!yellow,line width=.16pt,opacity=.55] (\b,\c) to[bend left=12] (\x,\y);}}
\zdots{yellow!70!orange}{672/522/4,560/550/6,652/558/8,520/578/8,550/615/6,690/660/7,535/675/8,600/715/5,628/747/5,700/718/3,660/690/3,620/650/2,640/600/2,700/590/2,580/640/2,620/620/2,595/650/1.5,690/610/1.5,640/670/2,570/690/1.5}
\zdots{yellow!80!orange}{665/630/12}\zdots{orange}{665/632/8}\zdots{red!60!magenta!70}{665/632/3.5}
\zdots{red!60!magenta!70}{652/558/2,690/660/2,600/715/2,535/675/2}
\draw[red!25,line width=.2pt] (615,395) -- (628,383) -- (636,410) -- (622,420) -- cycle (615,395) -- (636,395);
\foreach \x/\y/\t in {706/515/Cent South Univ,605/547/Capital Med Univ,688/558/Harvard Univ,598/576/Univ Texas MD Anderson Canc Ctr,591/614/Northwestern Univ,690/625/Duke Univ,780/606/Huazhong Univ Sci \& Technol,740/660/Univ Calif Los Angeles,593/672/Univ Calif San Francisco,690/688/German Canc Res Ctr,631/712/Univ Pittsburgh,670/742/Johns Hopkins Univ}{\zt[text=darkred,font={\labf\bfseries\fontsize{1.7}{1.7}\selectfont}]{\x}{\y}{1.7}{\t}}
% authors production
\zt[text=black!60,anchor=west]{88}{904}{1.9}{Authors' Production over Time}
\foreach \g/\st/\en/\n in {934/125/468/SAMPSON JOHN H,963/205/468/LIM MICHAEL,992/125/468/REARDON DAVID A,1021/125/468/HEIMBERGER AMY B,1050/105/468/DUNN GAVIN P,1079/145/468/WELLER MICHAEL,1108/125/428/KEIR SCOTT T,1137/165/468/CASTRO MARIA G,1166/125/468/POLLACK IAN F,1195/165/468/JOHNSON TERRI S}{
 \draw[black!25,line width=.25pt] (\st,\g) -- (\en,\g);
 \pgfmathtruncatemacro\stp{\st+20}
 \foreach \d in {\st,\stp,...,\en}{\fill[xnavy!60!black!60] (\d,\g) circle[x radius=.8/\sx,y radius=1.05/\sy];}
 \zt[text=black!70,anchor=east]{88}{\g}{.95}{\n}}
\zdots{xnavy}{387/1021/1.6,286/934/1.2,347/934/1.2,408/963/1.2,448/963/1.2,367/1021/1.1,327/1050/1.1,246/1021/1.1}
\zt[text=black!60,rotate=90]{38}{1065}{.9}{Author}
\draw[black!50,line width=.2pt] (90,1213) -- (470,1213);
\foreach \g in {108,148,...,468}{\draw[black!50,line width=.2pt] (\g,1213) -- (\g,1226);}
\zt[text=black!50]{460}{1236}{.9}{Year}
\zdots{xblue}{128/1195/3.5}\zdots{white}{128/1195/1.2}
\fill[green!60!black] (493,1222) -- (490,1232) -- (498,1232) -- cycle;\zt[text=black!45]{514}{1227}{1}{VOSviewer}
% D network
\def\dG{560/1080/7,535/1108/4,590/1128/4,520/1100/2,545/1140/2,575/1105/3,600/1090/3,525/1130/2,555/1150/2,570/1140/2,600/1150/2}
\def\dR{613/1021/5,650/968/3.5,625/1070/3,640/1035/2,590/1015/2,610/1060/2,640/1070/2,665/1040/2,655/1015/1.5,690/1110/1.2,700/1112/1.2}
\def\dC{572/1068/3,545/1032/2,560/1060/2,585/1040/2}
\def\dB{840/1060/3,815/1055/2,825/1075/2,850/1045/2,835/1040/2,800/1062/1.5,855/1070/2,845/1085/1.5,820/1040/1.5,858/1055/1.5,760/1062/1}
\def\dY{570/980/1.7,600/1060/3,590/1085/3,585/985/1.3,565/1000/1.2}
\def\dO{678/993/3,660/985/1.5,690/985/1.2,665/1005/1.3}
\def\dP{615/1180/2,640/1135/1.5,610/1150/1,605/1200/1,645/1150/1}
\net{vgreen}{560/1080/0,590/1128/0}{\dG}\net{vred}{613/1021/0,650/968/0}{\dR}\net{vblue}{840/1060/0}{\dB}\net{vpur}{615/1180/0}{\dP}\net{orange}{678/993/0}{\dO,\dR}\net{cyan!60!teal}{572/1068/0}{\dC,\dG}\net{vyel}{600/1060/0}{\dY,\dG}
\draw[black!15,line width=.2pt] (613,1021) to[bend left=25] (840,1060);
\zdots{vgreen}{\dG}\zdots{vred}{\dR}\zdots{cyan!60!teal}{\dC}\zdots{vblue}{\dB}\zdots{yellow!70!olive}{\dY}\zdots{orange!80!brown}{\dO}\zdots{vpur}{\dP}
\foreach \g in {875,887,898}{\draw[green!40!black!60,line width=.35pt,dash pattern=on 1pt off .3pt] (550,\g) -- (585,\g);}
% refs A
\zt[font={\labf\bfseries\fontsize{4.6}{4.6}\selectfont}]{1011}{133}{4.6}{A}
\def\rG{1067/133/1.4,1112/177/1.5,1155/170/1.5,1210/125/1.2,1180/142/1.2,1085/228/1,1068/264/1.4,1095/285/1.2,1092/310/1.5,1120/285/1,1078/335/1.2,1135/190/1,1170/225/1,1110/240/1.1}
\def\rY{1210/157/1.2,1210/190/1.4,1215/222/1.2,1195/255/1.2,1130/340/1.2,1165/192/1,1150/260/1}
\def\rR{1247/260/5.5,1390/275/2,1328/265/1.5,1295/378/1.8,1205/352/1.5,1228/365/1.5,1243/410/2,1210/425/1.4,1290/300/1.5,1270/320/1.2,1345/300/1,1240/300/1.2,1300/340/1.2}
\def\rB{1135/510/2.2,1150/512/2,1100/410/2,1122/430/1.4,1170/350/1.5,1152/430/1.4,1170/385/1.2,1185/510/1.2,1100/390/1,1150/545/1,1130/395/1.2}
\haze{vgreen}{1135}{230}{85}{125}{220}
\haze{vyel}{1185}{220}{60}{110}{110}
\haze{vred}{1270}{330}{125}{120}{240}
\haze{vblue}{1135}{430}{70}{125}{170}
\net{vgreen}{1112/177/0,1092/310/0,1155/170/0,1247/260/0,1067/133/0}{\rG}
\net{vyel}{1210/190/0,1247/260/0,1210/125/0}{\rY}
\net{vred}{1247/260/0,1243/410/0,1390/275/0,1295/378/0}{\rR}
\net{vblue}{1135/510/0,1100/410/0,1247/260/0,1170/350/0}{\rB}
\net{vred!60}{1390/275/0}{\rG,\rB}
\net{vblue!60}{1135/510/0}{\rR}
\net{vgreen!60}{1067/133/0}{\rB}
\zdots{vgreen}{\rG}\zdots{yellow!80!olive}{\rY}\zdots{vred}{\rR}\zdots{vblue}{\rB}
\foreach \xx/\yy/\ss/\t in {1067/132/.85/preethiva s,1170/142/.85/park h 2008 nat med,1240/125/.85/louis dn 2007 acta neuropath,1245/157/.85/kleijn a 2014 neuro oncol,1150/177/.85/louis dn 2016 acta neuropath,1225/189/.85/ahmed n 2017 jama oncol,1245/222/.85/dunn gp 2004 annu rev immunol,1250/259/1.4/stupp r 2005 new engl j med,1075/228/.85/weller m 2017,1075/264/.85/hambardzumyan d 2016 nat neurosci,1120/285/.85/pyonteck sm 2013 nat med,1090/310/.85/brown ce 2016,1070/337/.85/zhao j 2019,1085/392/.85/mantovani a 2017,1100/409/.85/quail df 2013 nat med,1340/298/.85/brahmer jr 2012,1225/352/.85/johnson b,1300/332/.85/louis dn 2021,1295/378/.85/sampson jh 2014,1120/430/.85/topalian sl 2012,1180/385/.85/chen dj 2013,1155/511/1.05/brown ce 2016 new engl j med,1140/540/.85/ahmed n 2017,1425/282/.85/reardon da}{\zt[text=black!65]{\xx}{\yy}{\ss}{\t}}
\fill[green!60!black] (1015,552) -- (1011,566) -- (1020,566) -- cycle;\zt[text=black!45]{1036}{559}{1.1}{VOSviewer}
% refs B
\zt[font={\labf\bfseries\fontsize{4.6}{4.6}\selectfont}]{1011}{627}{4.6}{B}
\foreach \g in {1006,1021,1043,1082,1185,1293}{\fill[mag] (\g-5,655) rectangle (\g+5,659);}
\foreach \a/\b/\h/\c in {1090/1290/70/yellow!85!orange,1080/1190/60/orange!80!yellow,1105/1290/55/yellow!70!green,1140/1290/60/orange!70,1190/1290/45/orange!80,1140/1190/40/yellow!80!orange,1100/1140/45/yellow!80!green,1105/1260/40/orange!60!yellow}{
 \draw[\c,line width=.45pt,opacity=.65] (\a,705) .. controls (\a+30,705-\h) and (\b-30,705-\h) .. (\b,705);
 \draw[\c,line width=.3pt,opacity=.45] (\a,760) .. controls (\a+30,760-\h/2) and (\b-30,760-\h/2) .. (\b,760);
 \draw[\c,line width=.3pt,opacity=.5] (\a,860) .. controls (\a+30,860-2*\h) and (\b-30,860-2*\h) .. (\b,860);}
\foreach \k in {1,...,22}{\draw[orange!60!yellow,line width=.3pt,opacity=.5] ({1130+6*\k},700) -- ({1120+8*\k},{900+\k});}
\foreach \g/\c/\l in {705/red!60/{\#0 microglia},731/orange!60/{\#1 prognosis},757/yellow!70!orange/{\#2 glioblastoma},782/yellow!60!green/{\#3 chimeric antigen receptor},808/green!50/{\#4 exosome},833/green!40!cyan/{\#5 pd-1},859/cyan!50/{\#6 oncolytic virus},885/cyan!60!blue/{\#7 diffuse intrinsic pontine glioma},911/blue!50/{\#8 macrophage},937/violet!60/{\#9 nanomedicine}}{
 \draw[\c,line width=.25pt] (1000,\g) -- (1300,\g);
 \zt[text=red!75!black,anchor=west,font={\labf\bfseries\fontsize{1.1}{1.1}\selectfont}]{1320}{\g}{1.1}{\l}
 \draw[darkred!80,line width=.22pt,dash pattern=on 3pt off .8pt] (1040,\g+8) -- (1285,\g+8);
 \draw[darkred!80,line width=.22pt,dash pattern=on 3pt off 1pt] (1050,\g+15) -- (1200,\g+15);}
\draw[violet!60,line width=.6pt] (1110,937) -- (1290,937);
\fill[cyan!40] (1008,757) -- (1040,750) -- (1040,775) -- cycle;
\zt[text=red!75!black,font={\labf\bfseries\fontsize{1.1}{1.1}\selectfont}]{1312}{920}{1.1}{macrophage}
\rings{705}{1082/3,1104/3,1138/3.5,1285/1.8,1300/1.8}
\rings{731}{1140/2.5}
\rings{757}{1050/1.5,1065/2.5,1080/2.5,1102/3,1138/3,1178/3.5,1192/3.5,1250/2.5,1288/4}
\rings{782}{1050/2,1065/2.5,1100/2.5,1138/2.5,1192/2.5}
\rings{833}{1138/2.5}\rings{859}{1138/3,1192/1.8}\rings{885}{1100/1.5,1192/1.5}\rings{911}{1100/2.5,1135/1.8,1192/1.8,1290/1.5}
\foreach \c [count=\i from 0] in {red,orange,yellow,yellow!40!green,green,green!60!cyan,cyan,cyan!40!blue,blue,violet}{\fill[\c] (1421,{800+7.5*\i}) rectangle (1437,{807.5+7.5*\i});}
\shade[top color=black!55,bottom color=black!3] (1421,875) rectangle (1437,980);
\zt[text=black!45]{1430}{997}{1}{CiteSpace}
\fill[black!30] (1418,1010) -- (1430,1003) -- (1442,1010) -- (1442,1017) -- (1418,1017) -- cycle;
% refs C table
\zt[font={\labf\bfseries\fontsize{4.6}{4.6}\selectfont}]{1011}{1058}{4.6}{C}
\zt[font={\bfseries\rmfamily\fontsize{1.95}{2}\selectfont}]{1220}{1065}{1.95}{Top 25 References with the Strongest Citation Bursts}
\foreach \xx/\t in {1125/References,1249/Year,1268/Strength,1288/Begin,1303/End,1370/2000 - 2023}{\zt[font={\bfseries\rmfamily\fontsize{1.15}{1.2}\selectfont}]{\xx}{1092}{1.15}{\t}}
\foreach \a/\b/\t [count=\i from 0] in {
1318/1345/{Yu JS, 2001, CANCER RES, V61, P842},
1335/1360/{Yu JS, 2004, CANCER RES, V64, P4973, DOI 10.1158/0008-5472.CAN-03-3505},
1340/1365/{Stupp R, 2005, NEW ENGL J MED, V352, P987, DOI 10.1056/NEJMoa043330},
1340/1365/{Liau LM, 2005, CLIN CANCER RES, V11, P5515, DOI 10.1158/1078-0432.CCR-05-0464},
1340/1370/{Prins RM, 2006, CANCER RES, V66, P3294, DOI 10.1158/0008-5472.CAN-05-3773},
1355/1380/{De Vleeschouwer S, 2008, CLIN CANCER RES, V14, P3098, DOI 10.1158/1078-0432.CCR-07-4875},
1355/1380/{Wheeler CJ, 2008, CANCER RES, V68, P5955, DOI 10.1158/0008-5472.CAN-07-5973},
1360/1385/{Stupp R, 2009, LANCET ONCOL, V10, P459, DOI 10.1016/S1470-2045(09)70025-7},
1365/1390/{Sampson JH, 2010, J CLIN ONCOL, V28, P4722, DOI 10.1200/JCO.2010.28.6963},
1365/1393/{Okada H, 2011, J CLIN ONCOL, V29, P330, DOI 10.1200/JCO.2010.30.7744},
1365/1393/{Prins RM, 2011, CLIN CANCER RES, V17, P1603, DOI 10.1158/1078-0432.CCR-10-2563},
1365/1390/{Hodi FS, 2010, NEW ENGL J MED, V363, P711, DOI 10.1056/NEJMoa1003466},
1375/1398/{Topalian SL, 2012, NEW ENGL J MED, V366, P2443, DOI 10.1056/NEJMoa1200690},
1375/1403/{Phuphanich S, 2013, CANCER IMMUNOL IMMUN, V62, P125, DOI 10.1007/s00262-012-1319-0},
1378/1403/{Zeng J, 2013, INT J RADIAT ONCOL, V86, P343, DOI 10.1016/j.ijrobp.2012.12.025},
1380/1398/{Pardoll DM, 2012, NAT REV CANCER, V12, P252, DOI 10.1038/nrc3239},
1383/1408/{Wainwright DA, 2014, CLIN CANCER RES, V20, P5290, DOI 10.1158/1078-0432.CCR-14-0514},
1385/1408/{Gilbert MR, 2014, NEW ENGL J MED, V370, P699, DOI 10.1056/NEJMoa1308573},
1385/1408/{Chinot OL, 2014, NEW ENGL J MED, V370, P709, DOI 10.1056/NEJMoa1308345},
1390/1413/{Berghoff AS, 2015, NEURO-ONCOLOGY, V17, P1064, DOI 10.1093/neuonc/nou307},
1390/1413/{Louveau A, 2015, NATURE, V523, P337, DOI 10.1038/nature14432},
1398/1418/{Louis DN, 2016, ACTA NEUROPATHOL, V131, P803, DOI 10.1007/s00401-016-1545-1},
1398/1418/{Brown CE, 2016, NEW ENGL J MED, V375, P2561, DOI 10.1056/NEJMoa1610497},
1408/1428/{Cloughesy TF, 2019, NAT MED, V25, P477, DOI 10.1038/s41591-018-0337-7},
1413/1428/{Reardon DA, 2020, JAMA ONCOL, V6, P1003, DOI 10.1001/jamaoncol.2020.1024}}{
 \pgfmathsetmacro\g{1109+18.3*\i}
 \zt[anchor=west,font={\rmfamily\fontsize{1.02}{1.1}\selectfont}]{1012}{\g}{1.02}{\t}
 \draw[cyan!45!gray!55,line width=.4pt] (1315,\g) -- (1428,\g);
 \draw[red!75!black,line width=.55pt] (\a,\g) -- (\b,\g);
 \fill[black!60] (1244,\g-1.6) rectangle (1254,\g+1.6);
 \fill[black!60] (1264,\g-1.6) rectangle (1274,\g+1.6);
 \fill[black!75] (1284,\g-1.6) rectangle (1294,\g+1.6);
 \fill[black!60] (1298,\g-1.6) rectangle (1308,\g+1.6);}
\end{scope}
\end{tikzpicture}
\end{document}
